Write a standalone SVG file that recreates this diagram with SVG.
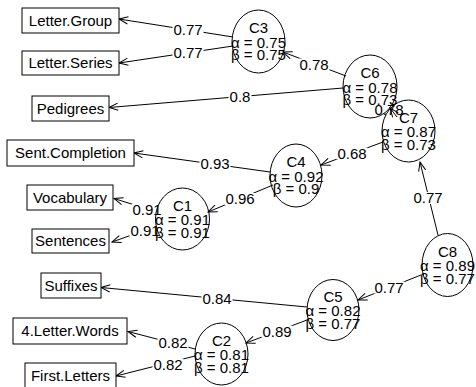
<svg xmlns="http://www.w3.org/2000/svg" width="476" height="387" viewBox="0 0 476 387">
<style>
text{font-family:"Liberation Sans",Arial,sans-serif;font-size:15px;fill:#000;text-anchor:middle}
.box{fill:#fff;stroke:#000;stroke-width:1}
.node{fill:none;stroke:#000;stroke-width:1}
.edge{fill:none;stroke:#000;stroke-width:1;marker-end:url(#arr)}
</style>
<defs>
<marker id="arr" markerUnits="userSpaceOnUse" viewBox="-10 -5 11 10" refX="0" refY="0" markerWidth="11" markerHeight="10" orient="auto" overflow="visible">
<path d="M-9,-3.6 L0,0 L-9,3.6" fill="none" stroke="#000" stroke-width="1"/>
</marker>
<mask id="lblmask" maskUnits="userSpaceOnUse" x="0" y="0" width="476" height="387">
<rect x="0" y="0" width="476" height="387" fill="#fff"/>
<g fill="#000">
<rect x="172.5" y="24" width="31" height="12"/>
<rect x="172.5" y="47" width="31" height="12"/>
<rect x="228.5" y="90.5" width="23" height="12"/>
<rect x="298.5" y="58.5" width="31" height="12"/>
<rect x="336.5" y="147.5" width="31" height="12"/>
<rect x="412.5" y="192" width="31" height="12"/>
<rect x="373.5" y="281.5" width="31" height="12"/>
<rect x="201.5" y="292.5" width="31" height="12"/>
<rect x="261.5" y="325.5" width="31" height="12"/>
<rect x="157.5" y="337" width="31" height="12"/>
<rect x="152.5" y="358.5" width="31" height="12"/>
<rect x="199.5" y="158" width="31" height="12"/>
<rect x="224.5" y="193" width="31" height="12"/>
<rect x="131.5" y="204" width="31" height="12"/>
<rect x="129.5" y="225" width="31" height="12"/>
</g>
</mask>
</defs>

<g id="connectors">
<g mask="url(#lblmask)">
<path class="edge" d="M233,37 L119,19"/>
<path class="edge" d="M233,46 L119,63"/>
<path class="edge" d="M343,88 L109,107.5"/>
<path class="edge" d="M346,76 L283,52"/>
<path class="edge" d="M383,142 L321,165"/>
<path class="edge" d="M438,235 L420,162"/>
<path class="edge" d="M421,275 L358,300"/>
<path class="edge" d="M307,307 L101,287.5"/>
<path class="edge" d="M307,320 L246,343"/>
<path class="edge" d="M195,349 L128,331.5"/>
<path class="edge" d="M195,356 L116,376"/>
<path class="edge" d="M270,172 L134,153"/>
<path class="edge" d="M273,185 L208,212"/>
<path class="edge" d="M157,212 L114,198.5"/>
<path class="edge" d="M157,226 L112,242"/>
</g>
<path class="edge" d="M397,117 L390,108"/>
<g id="edge-labels">
<text x="188" y="35.4">0.77</text>
<text x="188" y="58.4">0.77</text>
<text x="240" y="101.9">0.8</text>
<text x="314" y="69.9">0.78</text>
<text x="389" y="115.4">0.78</text>
<text x="352" y="158.9">0.68</text>
<text x="428" y="203.4">0.77</text>
<text x="389" y="292.9">0.77</text>
<text x="217" y="303.9">0.84</text>
<text x="277" y="336.9">0.89</text>
<text x="173" y="348.4">0.82</text>
<text x="168" y="369.9">0.82</text>
<text x="215" y="169.4">0.93</text>
<text x="240" y="204.4">0.96</text>
<text x="147" y="215.4">0.91</text>
<text x="145" y="236.4">0.91</text>
</g>
</g>

<g id="box-letter-group"><rect class="box" x="22" y="8" width="97" height="25"/><text x="70.5" y="25.9">Letter.Group</text></g>
<g id="box-letter-series"><rect class="box" x="22" y="51" width="97" height="24"/><text x="70.5" y="68.4">Letter.Series</text></g>
<g id="box-pedigrees"><rect class="box" x="32" y="96" width="77" height="25"/><text x="70.5" y="113.9">Pedigrees</text></g>
<g id="box-sent-completion"><rect class="box" x="7" y="140" width="127" height="26"/><text x="70.5" y="158.4">Sent.Completion</text></g>
<g id="box-vocabulary"><rect class="box" x="27" y="185" width="86" height="25"/><text x="70" y="202.9">Vocabulary</text></g>
<g id="box-sentences"><rect class="box" x="32" y="229" width="77" height="24"/><text x="70.5" y="246.4">Sentences</text></g>
<g id="box-suffixes"><rect class="box" x="41" y="273" width="60" height="25"/><text x="71" y="290.9">Suffixes</text></g>
<g id="box-4-letter-words"><rect class="box" x="13" y="318" width="114" height="26"/><text x="70" y="336.4">4.Letter.Words</text></g>
<g id="box-first-letters"><rect class="box" x="25" y="363" width="91" height="26"/><text x="70.5" y="381">First.Letters</text></g>

<g id="C3"><ellipse class="node" cx="258.5" cy="41.5" rx="26.5" ry="31.5"/><text x="258.5" y="33">C3</text><text x="258.5" y="47.5">α = 0.75</text><text x="258.5" y="60">β = 0.75</text></g>
<g id="C6"><ellipse class="node" cx="370" cy="86.5" rx="27" ry="31.5"/><text x="370" y="78">C6</text><text x="370" y="92.5">α = 0.78</text><text x="370" y="105">β = 0.73</text></g>
<g id="C7"><ellipse class="node" cx="408.5" cy="131" rx="26.5" ry="31"/><text x="408.5" y="122.5">C7</text><text x="408.5" y="137">α = 0.87</text><text x="408.5" y="149.5">β = 0.73</text></g>
<g id="C4"><ellipse class="node" cx="296" cy="175.5" rx="26" ry="31.5"/><text x="296" y="167">C4</text><text x="296" y="181.5">α = 0.92</text><text x="296" y="194">β = 0.9</text></g>
<g id="C1"><ellipse class="node" cx="182.5" cy="219" rx="27" ry="31"/><text x="182.5" y="210.5">C1</text><text x="182.5" y="225">α = 0.91</text><text x="182.5" y="237.5">β = 0.91</text></g>
<g id="C8"><ellipse class="node" cx="447.5" cy="265" rx="25.5" ry="31.5"/><text x="447.5" y="256.5">C8</text><text x="447.5" y="271">α = 0.89</text><text x="447.5" y="283.5">β = 0.77</text></g>
<g id="C5"><ellipse class="node" cx="333" cy="310" rx="26" ry="30.5"/><text x="333" y="301.5">C5</text><text x="333" y="316">α = 0.82</text><text x="333" y="328.5">β = 0.77</text></g>
<g id="C2"><ellipse class="node" cx="221.5" cy="354" rx="26.5" ry="31"/><text x="221.5" y="345.5">C2</text><text x="221.5" y="360">α = 0.81</text><text x="221.5" y="372.5">β = 0.81</text></g>
</svg>
